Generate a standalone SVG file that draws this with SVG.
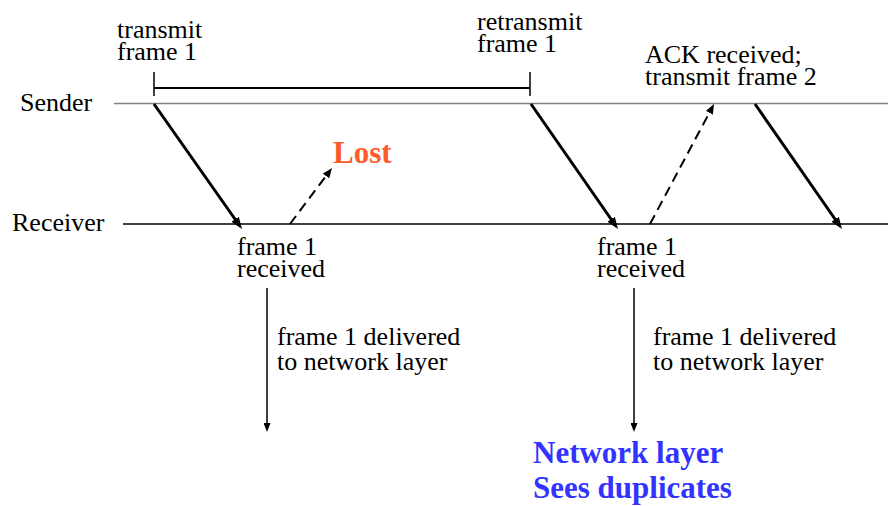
<svg xmlns="http://www.w3.org/2000/svg" width="888" height="506" viewBox="0 0 888 506">
<defs>
<style>
text{font-family:"Liberation Serif","Times New Roman",serif;font-size:26px;fill:#000}
.bold{font-weight:bold;font-size:31px}
.lost{fill:#FF5A2A}
.blue{fill:#3333FF}
.thick{stroke:#000;stroke-width:3;fill:none}
.dash{stroke:#000;stroke-width:2;fill:none;stroke-dasharray:10 6}
.thin{stroke:#000;stroke-width:1.5;fill:none}
</style>
<marker id="ah" markerUnits="userSpaceOnUse" markerWidth="12" markerHeight="10" refX="4" refY="4.5" orient="auto" viewBox="0 0 12 9">
<path d="M0,0 L12,4.5 L0,9 z" fill="#000"/>
</marker>
<marker id="ahd" markerUnits="userSpaceOnUse" markerWidth="10" markerHeight="8" refX="2.5" refY="4" orient="auto" viewBox="0 0 10 8">
<path d="M0,0 L10,4 L0,8 z" fill="#000"/>
</marker>
<marker id="aht" markerUnits="userSpaceOnUse" markerWidth="9" markerHeight="7" refX="2" refY="3.5" orient="auto" viewBox="0 0 9 7">
<path d="M0,0 L9,3.5 L0,7 z" fill="#000"/>
</marker>
</defs>

<g id="timelines">
<line x1="114" y1="103.5" x2="888" y2="103.5" stroke="#808080" stroke-width="1.5"/>
<line x1="123" y1="224" x2="888" y2="224" stroke="#000" stroke-width="1.5"/>
</g>

<g id="labels-axes">
<text x="20" y="111">Sender</text>
<text x="12" y="231">Receiver</text>
</g>

<g id="timeout-bracket">
<line x1="154" y1="88" x2="530" y2="88" stroke="#000" stroke-width="2"/>
<line x1="154" y1="72" x2="154" y2="96" stroke="#000" stroke-width="1.5"/>
<line x1="530" y1="72" x2="530" y2="96" stroke="#000" stroke-width="1.5"/>
</g>

<g id="connectors">
<line class="thick" x1="154" y1="104" x2="237.4" y2="222.5" marker-end="url(#ah)"/>
<line class="thick" x1="531" y1="104" x2="613.4" y2="222.5" marker-end="url(#ah)"/>
<line class="thick" x1="755" y1="104" x2="837.4" y2="222.5" marker-end="url(#ah)"/>
<line class="dash" x1="290" y1="224" x2="327.5" y2="174" marker-end="url(#ahd)"/>
<line class="dash" x1="650" y1="224" x2="710.5" y2="110.6" marker-end="url(#ahd)"/>
<line class="thin" x1="267" y1="288" x2="267" y2="425" marker-end="url(#aht)"/>
<line class="thin" x1="634" y1="288" x2="634" y2="425" marker-end="url(#aht)"/>
</g>

<g id="transmit1">
<text x="117" y="38">transmit</text>
<text x="117" y="60">frame 1</text>
</g>
<g id="retransmit1">
<text x="477" y="30">retransmit</text>
<text x="477" y="52">frame 1</text>
</g>
<g id="ack-received">
<text x="645" y="63">ACK received;</text>
<text x="645" y="85">transmit frame 2</text>
</g>
<g id="lost">
<text class="bold lost" x="333" y="163">Lost</text>
</g>
<g id="received1">
<text x="237" y="255">frame 1</text>
<text x="237" y="277">received</text>
</g>
<g id="received2">
<text x="597" y="255">frame 1</text>
<text x="597" y="277">received</text>
</g>
<g id="delivered1">
<text x="277" y="345">frame 1 delivered</text>
<text x="277" y="370">to network layer</text>
</g>
<g id="delivered2">
<text x="653" y="345">frame 1 delivered</text>
<text x="653" y="370">to network layer</text>
</g>
<g id="duplicates">
<text class="bold blue" x="533" y="463">Network layer</text>
<text class="bold blue" x="533" y="498">Sees duplicates</text>
</g>
</svg>
